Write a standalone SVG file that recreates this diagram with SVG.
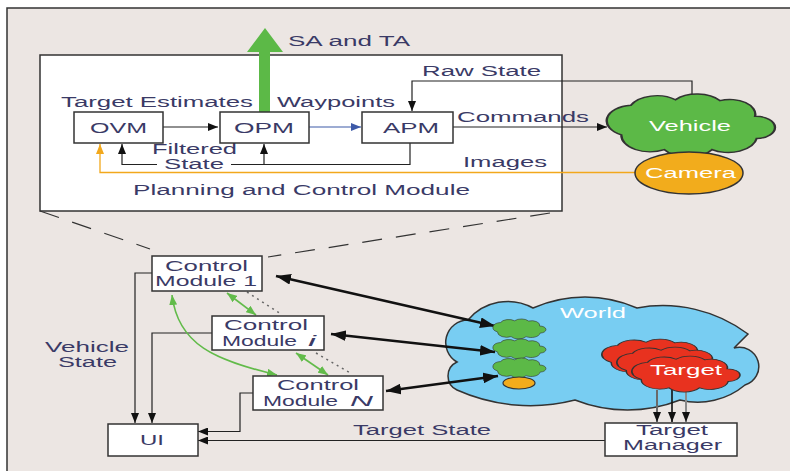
<svg xmlns="http://www.w3.org/2000/svg" width="790" height="471" viewBox="0 0 790 471">
<style>
.t{font-family:"Liberation Sans",Arial,sans-serif;font-size:14px;fill:#3a3a66}
.w{font-family:"Liberation Sans",Arial,sans-serif;font-size:14px;fill:#ffffff}
.box{fill:#ffffff;stroke:#333333;stroke-width:1.5}
.ln{fill:none;stroke:#222222;stroke-width:1.2}
.thick{fill:none;stroke:#111111;stroke-width:2.5}
.grn{fill:none;stroke:#62bb4a;stroke-width:1.6}
.dot{fill:none;stroke:#666666;stroke-width:1.5;stroke-dasharray:2 4}
.dash{fill:none;stroke:#333333;stroke-width:1.2;stroke-dasharray:20 14}
.cloud{stroke:#333333;stroke-width:1.5;vector-effect:non-scaling-stroke}
</style>
<defs>
<marker id="ah" viewBox="0 0 10 8" refX="10" refY="4" markerWidth="10" markerHeight="8" markerUnits="userSpaceOnUse" orient="auto"><path d="M0,0 L10,4 L0,8 z" fill="#111"/></marker>
<marker id="ahBlue" viewBox="0 0 10 8" refX="10" refY="4" markerWidth="11" markerHeight="8" markerUnits="userSpaceOnUse" orient="auto"><path d="M0,0 L10,4 L0,8 z" fill="#3d5aa8"/></marker>
<marker id="ahOr" viewBox="0 0 10 8" refX="10" refY="4" markerWidth="10" markerHeight="8" markerUnits="userSpaceOnUse" orient="auto"><path d="M0,0 L10,4 L0,8 z" fill="#f2a81c"/></marker>
<marker id="ahBig" viewBox="0 0 14 10" refX="14" refY="5" markerWidth="15" markerHeight="11" markerUnits="userSpaceOnUse" orient="auto-start-reverse"><path d="M0,0 L14,5 L0,10 z" fill="#111"/></marker>
<marker id="ahG" viewBox="0 0 10 8" refX="10" refY="4" markerWidth="10" markerHeight="8" markerUnits="userSpaceOnUse" orient="auto-start-reverse"><path d="M0,0 L10,4 L0,8 z" fill="#62bb4a"/></marker>
<path id="cl" d="M8,42 A17,17 0 0 1 14,10 A18,18 0 0 1 42,4 A18,18 0 0 1 70,5 A16,16 0 0 1 92,22 A12,12 0 0 1 93,46 A18,18 0 0 1 65,58 A18,18 0 0 1 35,58 A18,18 0 0 1 8,42 Z"/>
</defs>

<rect x="7" y="8" width="800" height="480" fill="#ece6e3" stroke="#333333" stroke-width="1.5"/>

<g id="pcm">
<rect class="box" x="40" y="55" width="522" height="156"/>
<text class="t" x="133" y="195" font-size="15" textLength="337" lengthAdjust="spacingAndGlyphs">Planning and Control Module</text>
<text class="t" x="61" y="107" textLength="192" lengthAdjust="spacingAndGlyphs">Target Estimates</text>
<text class="t" x="277" y="107" textLength="118" lengthAdjust="spacingAndGlyphs">Waypoints</text>
<text class="t" x="152" y="154" font-size="13.5" textLength="85" lengthAdjust="spacingAndGlyphs">Filtered</text>
<text class="t" x="164" y="169" font-size="13.5" textLength="60" lengthAdjust="spacingAndGlyphs">State</text>
<text class="t" x="422" y="76" textLength="119" lengthAdjust="spacingAndGlyphs">Raw State</text>
<text class="t" x="457" y="122" textLength="132" lengthAdjust="spacingAndGlyphs">Commands</text>
<text class="t" x="463" y="167" textLength="84" lengthAdjust="spacingAndGlyphs">Images</text>
</g>

<g id="world">
<path d="M457,362 A22.5,22.5 0 0 1 468,320 A52,52 0 0 1 533,308 A128,128 0 0 1 637,308 A142,142 0 0 1 748,334 L734,348 A18.5,18.5 0 0 1 745,385 A73.5,73.5 0 0 1 680,400 A143,143 0 0 1 575,400 A180,180 0 0 1 457,390 A15.4,15.4 0 0 1 457,362 Z" fill="#78cdf2" stroke="#333" stroke-width="1.5"/>
<text class="w" x="560" y="318" textLength="66" lengthAdjust="spacingAndGlyphs">World</text>
</g>

<g id="connectors">
<line class="dash" x1="40" y1="211" x2="150" y2="249"/>
<line class="dash" x1="550" y1="213" x2="268" y2="257"/>
<line class="ln" x1="163" y1="127" x2="218" y2="127" marker-end="url(#ah)"/>
<line x1="309" y1="127" x2="361" y2="127" stroke="#3d5aa8" stroke-width="1.2" marker-end="url(#ahBlue)"/>
<path class="ln" d="M410,143 V164.5 H231"/>
<path class="ln" d="M157,164.5 H122 V144" marker-end="url(#ah)"/>
<line class="ln" x1="264" y1="164.5" x2="264" y2="144" marker-end="url(#ah)"/>
<path d="M636,172.5 H100 V144" fill="none" stroke="#f2a81c" stroke-width="1.3" marker-end="url(#ahOr)"/>
<path class="ln" d="M692,97 V81 H412 V111" marker-end="url(#ah)"/>
<line class="ln" x1="453" y1="127" x2="607" y2="127" marker-end="url(#ah)"/>
<path class="ln" d="M152,273 H135 V423" stroke-width="1.6" marker-end="url(#ah)"/>
<path class="ln" d="M212,333 H152 V423" stroke-width="1.6" marker-end="url(#ah)"/>
<path class="ln" d="M253,393 H240 V431.5 H198" marker-end="url(#ah)"/>
<line class="ln" x1="605" y1="440.5" x2="198" y2="440.5" marker-end="url(#ah)"/>
<line class="thick" x1="276" y1="276" x2="495" y2="326" marker-start="url(#ahBig)" marker-end="url(#ahBig)"/>
<line class="thick" x1="331" y1="334" x2="495" y2="352" marker-start="url(#ahBig)" marker-end="url(#ahBig)"/>
<line class="thick" x1="386" y1="391" x2="498" y2="376" marker-start="url(#ahBig)" marker-end="url(#ahBig)"/>
<line class="grn" x1="227" y1="293" x2="256" y2="315" marker-start="url(#ahG)" marker-end="url(#ahG)"/>
<line class="grn" x1="296" y1="353" x2="328" y2="375" marker-start="url(#ahG)" marker-end="url(#ahG)"/>
<path class="grn" d="M172,295 C178,345 215,360 277,375" marker-start="url(#ahG)" marker-end="url(#ahG)"/>
<line class="dot" x1="247" y1="292" x2="281" y2="314"/>
<line class="dot" x1="316" y1="353" x2="352" y2="374"/>
<line x1="657" y1="390" x2="657" y2="422" stroke="#6a6a6a" stroke-width="2" marker-end="url(#ah)"/>
<line x1="672" y1="388" x2="672" y2="422" stroke="#111" stroke-width="1.6" marker-end="url(#ah)"/>
<line x1="686" y1="390" x2="686" y2="422" stroke="#8a8a8a" stroke-width="2" marker-end="url(#ah)"/>
</g>

<g id="sa-ta">
<polygon points="259,112 259,52 247,52 265,28 283,52 270,52 270,112" fill="#5cb947"/>
<text class="t" x="288" y="46" textLength="122" lengthAdjust="spacingAndGlyphs">SA and TA</text>
</g>

<g id="ovm">
<rect class="box" x="74" y="112" width="89" height="31"/>
<text class="t" x="90" y="133" font-size="15" textLength="57" lengthAdjust="spacingAndGlyphs">OVM</text>
</g>
<g id="opm">
<rect class="box" x="220" y="112" width="89" height="31"/>
<text class="t" x="234" y="133" font-size="15" textLength="60" lengthAdjust="spacingAndGlyphs">OPM</text>
</g>
<g id="apm">
<rect class="box" x="362" y="112" width="91" height="31"/>
<text class="t" x="383" y="133" font-size="15" textLength="56" lengthAdjust="spacingAndGlyphs">APM</text>
</g>

<g id="vehicle">
<use href="#cl" class="cloud" fill="#5cb947" transform="translate(608.6,96) scale(1.592,0.924)"/>
<text class="w" x="649" y="131" font-size="15" textLength="82" lengthAdjust="spacingAndGlyphs">Vehicle</text>
</g>
<g id="camera">
<ellipse cx="689" cy="173" rx="54" ry="21" fill="#f2ac1c" stroke="#333" stroke-width="1.5"/>
<text class="w" x="645" y="178" textLength="91" lengthAdjust="spacingAndGlyphs">Camera</text>
</g>

<g id="cm1">
<rect class="box" x="152" y="256" width="110" height="35"/>
<text class="t" x="165" y="271" textLength="83" lengthAdjust="spacingAndGlyphs">Control</text>
<text class="t" x="155" y="286" textLength="102" lengthAdjust="spacingAndGlyphs">Module 1</text>
</g>
<g id="cmi">
<rect class="box" x="212" y="316" width="112" height="34"/>
<text class="t" x="224" y="330" textLength="84" lengthAdjust="spacingAndGlyphs">Control</text>
<text class="t" x="222" y="346" textLength="75" lengthAdjust="spacingAndGlyphs">Module</text>
<text class="t" x="308" y="346" font-style="italic" textLength="8" lengthAdjust="spacingAndGlyphs">i</text>
</g>
<g id="cmn">
<rect class="box" x="253" y="376" width="130" height="34"/>
<text class="t" x="277" y="390" textLength="82" lengthAdjust="spacingAndGlyphs">Control</text>
<text class="t" x="263" y="406" textLength="75" lengthAdjust="spacingAndGlyphs">Module</text>
<text class="t" x="350" y="406" font-style="italic" textLength="23" lengthAdjust="spacingAndGlyphs">N</text>
</g>

<g id="vehicle-state">
<text class="t" x="45" y="352" font-size="13.5" textLength="84" lengthAdjust="spacingAndGlyphs">Vehicle</text>
<text class="t" x="58" y="367" font-size="13.5" textLength="59" lengthAdjust="spacingAndGlyphs">State</text>
</g>

<g id="ui">
<rect class="box" x="108" y="424" width="90" height="32"/>
<text class="t" x="140" y="445" textLength="24" lengthAdjust="spacingAndGlyphs">UI</text>
</g>

<g id="target-state">
<text class="t" x="353" y="435" textLength="138" lengthAdjust="spacingAndGlyphs">Target State</text>
</g>

<g id="target-manager">
<rect class="box" x="605" y="423" width="132" height="33"/>
<text class="t" x="636" y="435" font-size="13" textLength="72" lengthAdjust="spacingAndGlyphs">Target</text>
<text class="t" x="623" y="450" font-size="13" textLength="99" lengthAdjust="spacingAndGlyphs">Manager</text>
</g>

<g id="vehicles-in-world">
<use href="#cl" class="cloud" fill="#5cb947" transform="translate(493.5,319.6) scale(0.502,0.293)"/>
<use href="#cl" class="cloud" fill="#5cb947" transform="translate(493.5,339.6) scale(0.502,0.293)"/>
<use href="#cl" class="cloud" fill="#5cb947" transform="translate(493.5,358.6) scale(0.502,0.293)"/>
<ellipse cx="519" cy="383" rx="16" ry="6" fill="#f2ac1c" stroke="#333" stroke-width="1.2"/>
</g>

<g id="targets">
<use href="#cl" class="cloud" fill="#e8321f" transform="translate(603,340.2) scale(1.024,0.528)"/>
<use href="#cl" class="cloud" fill="#e8321f" transform="translate(618,348.2) scale(1.024,0.528)"/>
<use href="#cl" class="cloud" fill="#e8321f" transform="translate(633,357.2) scale(1.024,0.528)"/>
<text class="w" x="650" y="375" textLength="72" lengthAdjust="spacingAndGlyphs">Target</text>
</g>
</svg>
